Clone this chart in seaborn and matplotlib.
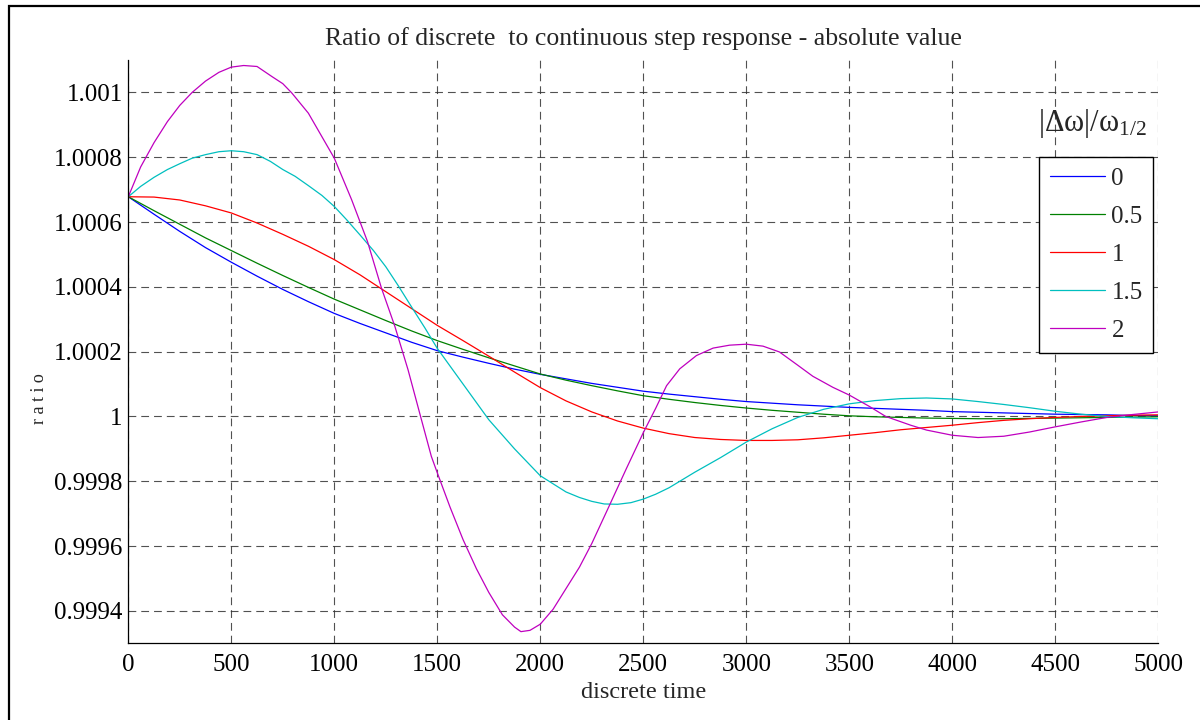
import numpy as np
import pandas as pd
import matplotlib
matplotlib.use("Agg")
import matplotlib.pyplot as plt
from matplotlib.lines import Line2D
from matplotlib.patches import Rectangle
from matplotlib.ticker import FuncFormatter
import seaborn as sns

# ---------------- data (deviation from 1, in units of 1e-4) ----------------
time = [0, 125, 250, 375, 500, 625, 750, 875, 1000, 1125, 1250, 1375, 1500,
        1625, 1750, 1875, 2000, 2125, 2250, 2375, 2500, 2625, 2750, 2875,
        3000, 3125, 3250, 3375, 3500, 3625, 3750, 3875, 4000, 4125, 4250,
        4375, 4500, 4625, 4750, 4875, 5000]

dev_0 = [6.78, 6.24, 5.71, 5.21, 4.76, 4.33, 3.92, 3.54, 3.18, 2.87, 2.58,
         2.29, 2.03, 1.83, 1.64, 1.46, 1.30, 1.16, 1.02, 0.90, 0.78, 0.69,
         0.61, 0.53, 0.46, 0.41, 0.36, 0.32, 0.28, 0.25, 0.22, 0.19, 0.15,
         0.13, 0.11, 0.09, 0.07, 0.06, 0.05, 0.03, 0.02]

dev_05 = [6.78, 6.35, 5.93, 5.51, 5.12, 4.73, 4.35, 3.98, 3.62, 3.29, 2.96,
          2.64, 2.34, 2.07, 1.81, 1.56, 1.31, 1.12, 0.95, 0.79, 0.64, 0.53,
          0.43, 0.34, 0.26, 0.19, 0.13, 0.07, 0.02, -0.01, -0.03, -0.05,
          -0.06, -0.07, -0.07, -0.06, -0.05, -0.04, -0.03, -0.02, -0.01]

dev_1 = [6.78, 6.77, 6.68, 6.50, 6.28, 5.97, 5.62, 5.25, 4.84, 4.37, 3.85,
         3.33, 2.81, 2.34, 1.86, 1.37, 0.89, 0.48, 0.14, -0.14, -0.36,
         -0.53, -0.65, -0.71, -0.74, -0.74, -0.72, -0.66, -0.58, -0.50,
         -0.41, -0.34, -0.27, -0.19, -0.12, -0.07, -0.03, 0.00, 0.02, 0.04,
         0.05]

time_15 = [0, 60, 125, 190, 250, 310, 375, 440, 500, 560, 625, 690, 750,
           810, 875, 940, 1000, 1060, 1125, 1190, 1250, 1310, 1375, 1440,
           1500, 1625, 1750, 1875, 2000, 2125, 2190, 2250, 2310, 2375, 2440,
           2500, 2560, 2625, 2750, 2875, 3000, 3125, 3250, 3375, 3500, 3625,
           3750, 3875, 4000, 4125, 4250, 4375, 4500, 4625, 4750, 4875, 5000]
dev_15 = [6.78, 7.10, 7.38, 7.62, 7.80, 7.97, 8.08, 8.17, 8.20, 8.17, 8.08,
          7.87, 7.62, 7.41, 7.12, 6.82, 6.48, 6.07, 5.60, 5.12, 4.62, 4.04,
          3.38, 2.73, 2.10, 1.00, -0.10, -1.00, -1.83, -2.33, -2.50, -2.62,
          -2.70, -2.71, -2.66, -2.55, -2.40, -2.20, -1.72, -1.27, -0.79,
          -0.38, -0.03, 0.22, 0.39, 0.49, 0.55, 0.57, 0.54, 0.46, 0.37, 0.27,
          0.16, 0.07, 0.00, -0.04, -0.07]

time_2 = [0, 60, 125, 190, 250, 310, 375, 440, 500, 560, 625, 697, 750, 794,
          874, 1000, 1084, 1161, 1229, 1294, 1358, 1423, 1471, 1500, 1562,
          1625, 1690, 1750, 1816, 1875, 1906, 1950, 2000, 2062, 2125, 2190,
          2250, 2328, 2417, 2500, 2560, 2613, 2677, 2758, 2839, 2919, 3000,
          3081, 3161, 3250, 3323, 3420, 3500, 3600, 3677, 3798, 3875, 4000,
          4125, 4250, 4375, 4500, 4625, 4750, 4875, 5000]
dev_2 = [6.78, 7.70, 8.45, 9.10, 9.60, 10.00, 10.35, 10.62, 10.78, 10.83,
         10.80, 10.49, 10.27, 9.98, 9.36, 7.97, 6.69, 5.40, 3.96, 2.78, 1.44,
         -0.10, -1.23, -1.74, -2.80, -3.80, -4.70, -5.43, -6.12, -6.50, -6.64,
         -6.60, -6.41, -5.95, -5.31, -4.65, -3.92, -2.85, -1.62, -0.50, 0.25,
         0.95, 1.47, 1.88, 2.11, 2.20, 2.23, 2.17, 1.99, 1.58, 1.24, 0.90,
         0.66, 0.30, 0.00, -0.27, -0.42, -0.58, -0.65, -0.61, -0.48, -0.32,
         -0.17, -0.03, 0.06, 0.14]

series_labels = ["0", "0.5", "1", "1.5", "2"]
series_times = [time, time, time, time_15, time_2]
series_devs = [dev_0, dev_05, dev_1, dev_15, dev_2]
series_colors = ["#0000ff", "#008000", "#ff0000", "#00bfbf", "#bf00bf"]

x_ticks = [0, 500, 1000, 1500, 2000, 2500, 3000, 3500, 4000, 4500, 5000]
y_ticks = [0.9994, 0.9996, 0.9998, 1.0, 1.0002, 1.0004, 1.0006, 1.0008, 1.001]

title_text = "Ratio of discrete  to continuous step response - absolute value"
x_label = "discrete time"
y_label = "r a t i o"
legend_title = "|Δω|/ω$_{1/2}$"

# ---------------- build table ----------------
rows = []
for lab, ts, dev in zip(series_labels, series_times, series_devs):
    for t, d in zip(ts, dev):
        rows.append({"t": t, "ratio": 1.0 + d * 1e-4, "series": lab})
df = pd.DataFrame(rows)

# ---------------- style ----------------
sns.set_theme(style="white")
plt.rcParams["font.family"] = ["Liberation Serif", "DejaVu Serif"]
plt.rcParams["mathtext.fontset"] = "custom"
plt.rcParams["mathtext.rm"] = "Liberation Serif"
plt.rcParams["mathtext.it"] = "Liberation Serif:italic"

W, H = 1200, 720
fig = plt.figure(figsize=(W / 100, H / 100), dpi=100)
fig.patch.set_facecolor("white")

left, right, top, bottom = 128.3, 1158.3, 60.0, 643.3
ax = fig.add_axes([left / W, 1 - bottom / H, (right - left) / W, (bottom - top) / H])
ax.set_facecolor("white")

palette = dict(zip(series_labels, series_colors))
sns.lineplot(data=df, x="t", y="ratio", hue="series", hue_order=series_labels,
             palette=palette, estimator=None, linewidth=0.9, legend=False, ax=ax)

ax.set_xlim(0, 5000)
ax.set_ylim(0.9993, 1.0011)
ax.set_xticks(x_ticks)
ax.set_yticks(y_ticks)


def yfmt(v, pos):
    return f"{round(v, 4):.4f}".rstrip("0").rstrip(".")


ax.yaxis.set_major_formatter(FuncFormatter(yfmt))
ax.xaxis.set_major_formatter(FuncFormatter(lambda v, p: f"{int(round(v))}"))

ax.grid(True, color="#333333", linestyle=(0, (7, 4.5)), linewidth=0.8, alpha=0.85)
for s in ["top", "right"]:
    ax.spines[s].set_visible(False)
for s in ["left", "bottom"]:
    ax.spines[s].set_visible(True)
    ax.spines[s].set_color("black")
    ax.spines[s].set_linewidth(0.9)

ax.tick_params(axis="both", direction="in", length=4, width=0.8, colors="black",
               labelsize=18, pad=4)
ax.tick_params(axis="x", pad=8)

ax.set_title(title_text, fontsize=18.5, pad=11)
ax.set_xlabel(x_label, fontsize=17.5, labelpad=4)
ax.set_ylabel(y_label, fontsize=13)
ax.yaxis.set_label_coords(-0.078, 0.42)

# legend
handles = [Line2D([0], [0], color=c, linewidth=0.9) for c in series_colors]
leg = fig.legend(handles, series_labels, loc="upper left",
                 bbox_to_anchor=(1039 / W, 1 - 157 / H), frameon=True,
                 fancybox=False, shadow=False, fontsize=18, handlelength=2.2,
                 handletextpad=0.28, labelspacing=0.62, borderpad=0.42,
                 borderaxespad=0.0)
leg.get_frame().set_edgecolor("black")
leg.get_frame().set_linewidth(1.0)
leg.get_frame().set_facecolor("white")
leg.get_frame().set_alpha(1.0)

fig.text(1092 / W, 1 - 123 / H, legend_title, fontsize=22, ha="center", va="center")

# outer frame
fig.patches.append(Rectangle((9 / W, -0.1), 1.2, 1 - 6 / H + 0.1,
                             transform=fig.transFigure, fill=False,
                             edgecolor="black", linewidth=1.6))

fig.savefig("out.png", dpi=100, facecolor="white")
